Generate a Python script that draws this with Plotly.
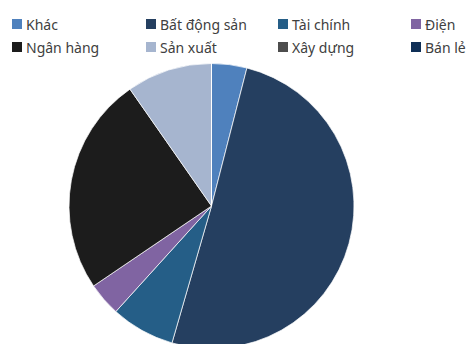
import plotly.graph_objects as go

# Sector shares (%)
sectors = ["Khác", "Bất động sản", "Tài chính", "Điện", "Ngân hàng", "Sản xuất", "Xây dựng", "Bán lẻ"]
shares = [4.0, 50.5, 7.25, 3.8, 24.8, 9.7, 0, 0]
colors = ["#4F81BD", "#253F60", "#255E87", "#8064A2", "#1C1C1C", "#A6B5CF", "#4D4D4D", "#0F2F56"]

W, H = 467, 350
cx, cy, r = 211.5, 206, 142.5

fig = go.Figure(go.Pie(
    labels=sectors,
    values=shares,
    marker=dict(colors=colors, line=dict(color="white", width=0.7)),
    sort=False,
    direction="clockwise",
    rotation=0,
    textinfo="none",
    hoverinfo="label+percent",
    showlegend=False,
    domain=dict(x=[(cx - r) / W, (cx + r) / W],
                y=[(H - (cy + r)) / H, (H - (cy - r)) / H]),
))

# Legend: 4 columns x 2 rows
col_x = [12, 146, 278, 411]
row_y = [24, 47]
shapes, annotations = [], []
for i, (name, col) in enumerate(zip(sectors, colors)):
    x = col_x[i % 4]
    y = row_y[i // 4]
    shapes.append(dict(type="rect", xref="paper", yref="paper",
                       x0=x / W, x1=(x + 10) / W,
                       y0=1 - (y + 5) / H, y1=1 - (y - 5) / H,
                       fillcolor=col, line=dict(width=0)))
    annotations.append(dict(text=name, xref="paper", yref="paper",
                            x=(x + 12) / W, y=1 - y / H,
                            xanchor="left", yanchor="middle", showarrow=False,
                            font=dict(family="Noto Sans", size=14, color="#404040")))

fig.update_layout(
    width=W, height=H,
    margin=dict(l=0, r=0, t=0, b=0),
    paper_bgcolor="white",
    plot_bgcolor="white",
    shapes=shapes,
    annotations=annotations,
)

fig.write_html("out.html",
               post_script="document.documentElement.style.overflow='hidden';document.body.style.overflow='hidden';")
